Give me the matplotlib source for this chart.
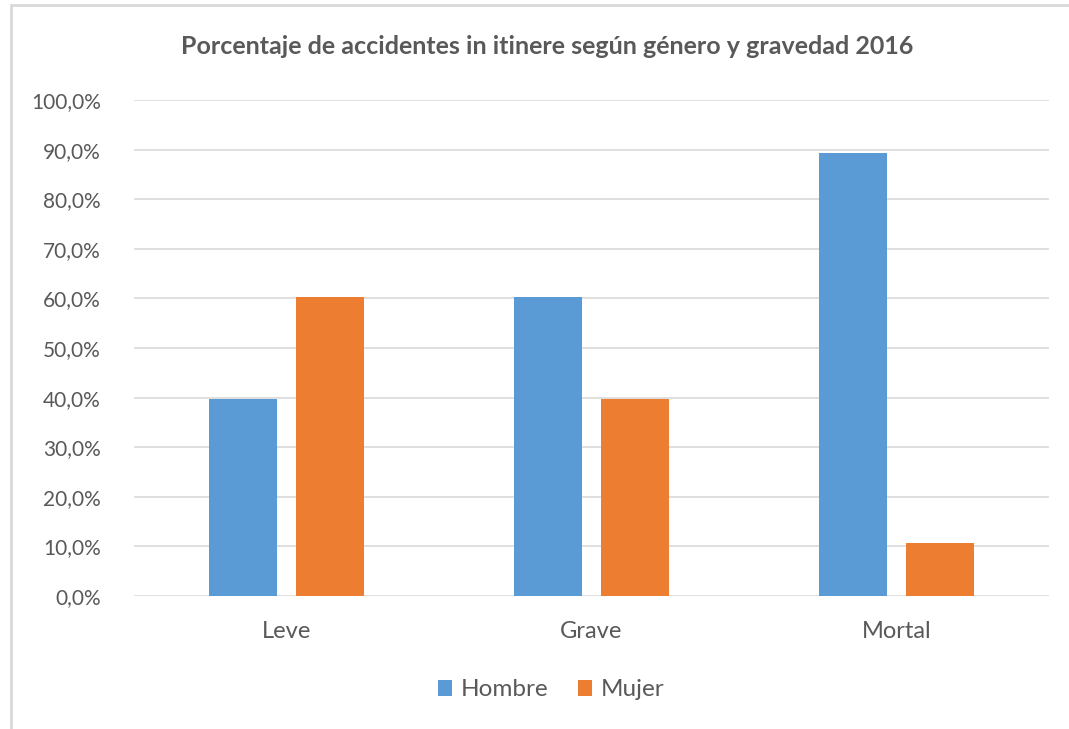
import numpy as np
import matplotlib.pyplot as plt
from matplotlib.patches import Rectangle
from matplotlib.ticker import FuncFormatter

categorias = ["Leve", "Grave", "Mortal"]
hombre = [39.8, 60.2, 89.3]
mujer = [60.2, 39.8, 10.7]
series = ["Hombre", "Mujer"]
colores = ["#5B9BD5", "#ED7D31"]
titulo = "Porcentaje de accidentes in itinere según género y gravedad 2016"

plt.rcParams['font.family'] = ['Lato', 'DejaVu Sans']
gris = "#595959"

fig = plt.figure(figsize=(10.69, 7.29), dpi=100)
ax = fig.add_axes([134 / 1069, 1 - 596 / 729, 915 / 1069, 496 / 729])

# marco del gráfico (estilo Excel)
fig.patches.append(Rectangle((11 / 1069, -0.01), 1.2, 1 - 5 / 729 + 0.01,
                             transform=fig.transFigure, fill=False,
                             edgecolor="#D9D9D9", linewidth=2))

x = np.arange(len(categorias))
ancho = 0.223
desp = 0.143
ax.bar(x - desp, hombre, ancho, color=colores[0], label=series[0], zorder=3)
ax.bar(x + desp, mujer, ancho, color=colores[1], label=series[1], zorder=3)

ax.set_xlim(-0.5, 2.5)
ax.set_ylim(0, 100)
ax.set_yticks(np.arange(0, 101, 10))
ax.yaxis.set_major_formatter(FuncFormatter(lambda v, p: f"{v:.1f}%".replace(".", ",")))
ax.set_xticks(x)
ax.set_xticklabels(categorias)
ax.grid(axis="y", color="#D9D9D9", linewidth=1.2, zorder=0)
for s in ax.spines.values():
    s.set_visible(False)
ax.tick_params(axis="y", length=0, pad=24, labelsize=15, labelcolor=gris)
ax.tick_params(axis="x", length=0, pad=18, labelsize=17, labelcolor=gris)

fig.text(0.512, 1 - 47 / 729, titulo, ha="center", va="center",
         fontsize=18, fontweight="bold", color=gris)

leg = fig.legend(loc="center", bbox_to_anchor=(551 / 1069, 1 - 690 / 729), ncol=2,
                 frameon=False, fontsize=17.5, handlelength=0.6, handleheight=0.6,
                 handletextpad=0.35, columnspacing=1.2)
for t in leg.get_texts():
    t.set_color(gris)

fig.savefig("out.png", dpi=100)
